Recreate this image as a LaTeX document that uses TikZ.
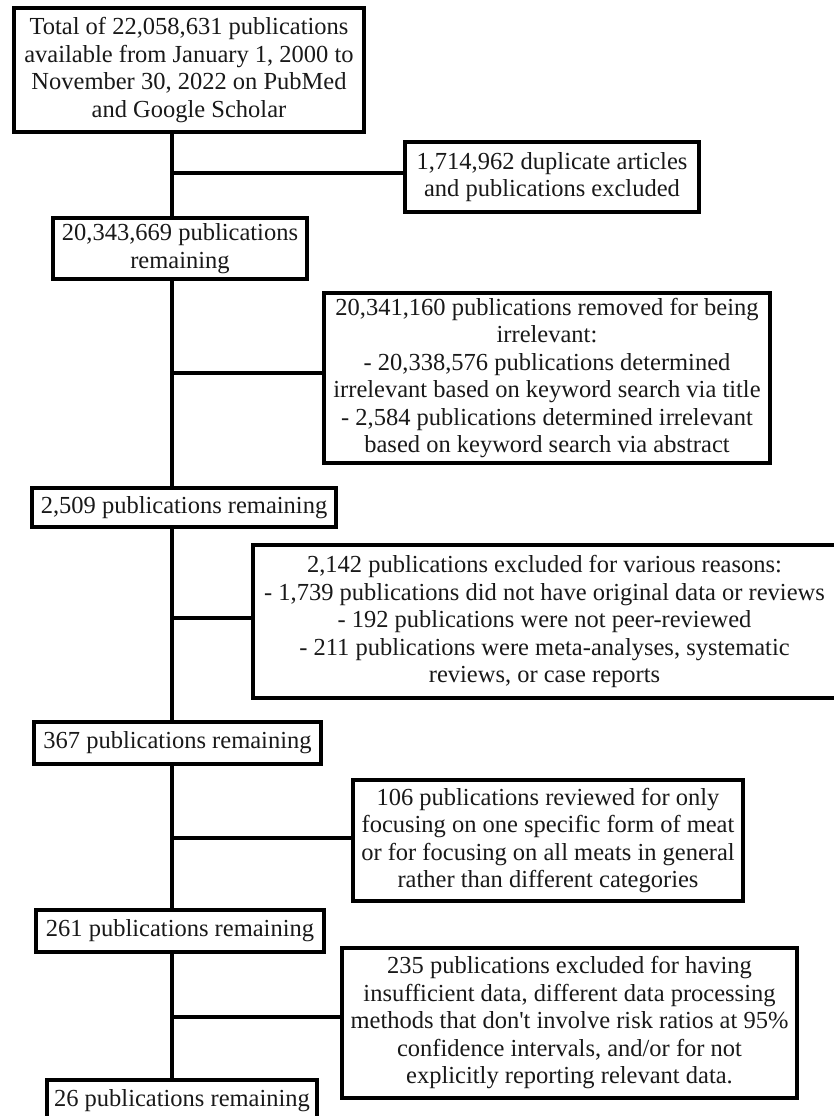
\documentclass[tikz,border=0pt]{standalone}
\usepackage{fontspec}
\setmainfont{Liberation Serif}[Ligatures=TeXOff]
\begin{document}
\begin{tikzpicture}[x=1pt,y=-1pt,
  box/.style={draw=black,line width=3.2pt,inner sep=0pt,align=center,
    font=\fontsize{24.5}{27.5}\selectfont,text=black!90},
  link/.style={draw=black,line width=3.2pt}]
\useasboundingbox (0,0) rectangle (833,1116);
\fill[white] (0,0) rectangle (833,1116);
\coordinate (spine) at (172,0);
\node[box,minimum width=350pt,minimum height=124pt] (top) at (189,70)
  {Total of 22,058,631 publications\\available from January 1, 2000 to\\November 30, 2022 on PubMed\\and Google Scholar};
\node[box,minimum width=294pt,minimum height=70pt] (dup) at (552,177)
  {1,714,962 duplicate articles\\and publications excluded};
\node[box,minimum width=254pt,minimum height=61pt] (r1) at (180,248.5)
  {20,343,669 publications\\remaining};
\node[box,minimum width=446pt,minimum height=170pt] (irr) at (547,378)
  {20,341,160 publications removed for being\\irrelevant:\\- 20,338,576 publications determined\\irrelevant based on keyword search via title\\- 2,584 publications determined irrelevant\\based on keyword search via abstract};
\node[box,minimum width=304pt,minimum height=39pt] (r2) at (184,507.5)
  {2,509 publications remaining};
\node[box,minimum width=583pt,minimum height=153pt] (exc) at (544.5,621.5)
  {2,142 publications excluded for various reasons:\\- 1,739 publications did not have original data or reviews\\- 192 publications were not peer-reviewed\\- 211 publications were meta-analyses, systematic\\reviews, or case reports};
\node[box,minimum width=287pt,minimum height=42pt] (r3) at (177.5,743)
  {367 publications remaining};
\node[box,minimum width=390pt,minimum height=121pt] (meat) at (548,840.5)
  {106 publications reviewed for only\\focusing on one specific form of meat\\or for focusing on all meats in general\\rather than different categories};
\node[box,minimum width=288pt,minimum height=42pt] (r4) at (180,931)
  {261 publications remaining};
\node[box,minimum width=455pt,minimum height=150pt] (data) at (569.5,1023)
  {235 publications excluded for having\\insufficient data, different data processing\\methods that don't involve risk ratios at 95\%\\confidence intervals, and/or for not\\explicitly reporting relevant data.};
\node[box,minimum width=270pt,minimum height=42pt] (r5) at (182,1101)
  {26 publications remaining};
% spine segments
\draw[link] (top.south -| spine) -- (r1.north -| spine);
\draw[link] (r1.south -| spine) -- (r2.north -| spine);
\draw[link] (r2.south -| spine) -- (r3.north -| spine);
\draw[link] (r3.south -| spine) -- (r4.north -| spine);
\draw[link] (r4.south -| spine) -- (r5.north -| spine);
% branches
\coordinate (b1) at (172,173);
\coordinate (b2) at (172,373);
\coordinate (b3) at (172,618);
\coordinate (b4) at (172,838);
\coordinate (b5) at (172,1017);
\draw[link] (b1) -- (b1 -| dup.west);
\draw[link] (b2) -- (b2 -| irr.west);
\draw[link] (b3) -- (b3 -| exc.west);
\draw[link] (b4) -- (b4 -| meat.west);
\draw[link] (b5) -- (b5 -| data.west);
\end{tikzpicture}
\end{document}
